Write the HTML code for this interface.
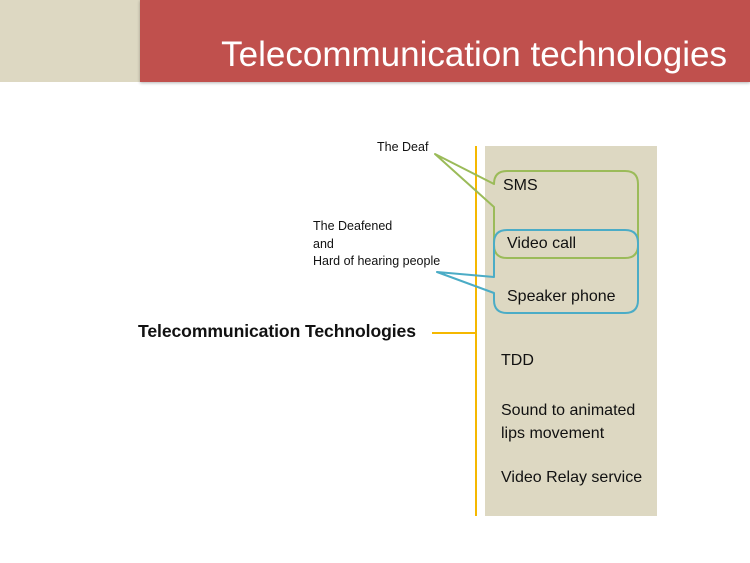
<!DOCTYPE html>
<html><head><style>
body{margin:0;width:750px;height:563px;background:#fff;position:relative;overflow:hidden;font-family:"Liberation Sans",sans-serif}
.t{position:absolute;white-space:nowrap;color:#111}
</style></head><body>
<div style="position:absolute;left:0;top:0;width:140px;height:82px;background:#ddd8c2"></div>
<div style="position:absolute;left:140px;top:0;width:610px;height:82px;background:#c0504d;box-shadow:0 1px 3px rgba(0,0,0,.3)"></div>
<div class="t" style="right:23px;top:35px;font-size:35px;color:#fff;letter-spacing:0px">Telecommunication technologies</div>
<div style="position:absolute;left:485px;top:146px;width:172px;height:370px;background:#ddd8c2"></div>
<svg width="750" height="563" style="position:absolute;left:0;top:0">
<line x1="476" y1="146" x2="476" y2="516" stroke="#f5b800" stroke-width="2"/>
<line x1="432" y1="333" x2="476" y2="333" stroke="#f5b800" stroke-width="2"/>
<path d="M494 184 L494 184 Q494 171 507 171 L625 171 Q638 171 638 184 L638 245 Q638 258 625 258 L507 258 Q494 258 494 245 L494 207 L435 154 Z" fill="none" stroke="#9bbb59" stroke-width="2" stroke-linejoin="round"/>
<path d="M494 277 L494 243 Q494 230 507 230 L625 230 Q638 230 638 243 L638 300 Q638 313 625 313 L507 313 Q494 313 494 300 L494 293 L437 272 Z" fill="none" stroke="#4bacc6" stroke-width="2" stroke-linejoin="round"/>
</svg>
<div class="t" style="left:377px;top:140px;font-size:12.5px">The Deaf</div>
<div class="t" style="left:313px;top:218px;font-size:12.5px;line-height:17.5px">The Deafened<br>and<br>Hard of hearing people</div>
<div class="t" style="left:138px;top:321px;font-size:17.6px;font-weight:bold;letter-spacing:-0.1px">Telecommunication Technologies</div>
<div class="t" style="left:503px;top:177px;font-size:16px">SMS</div>
<div class="t" style="left:507px;top:235px;font-size:16px">Video call</div>
<div class="t" style="left:507px;top:288px;font-size:16px">Speaker phone</div>
<div class="t" style="left:501px;top:352px;font-size:16px">TDD</div>
<div class="t" style="left:501px;top:399px;font-size:16px;line-height:23px">Sound to animated<br>lips movement</div>
<div class="t" style="left:501px;top:469px;font-size:16px">Video Relay service</div>
</body></html>
